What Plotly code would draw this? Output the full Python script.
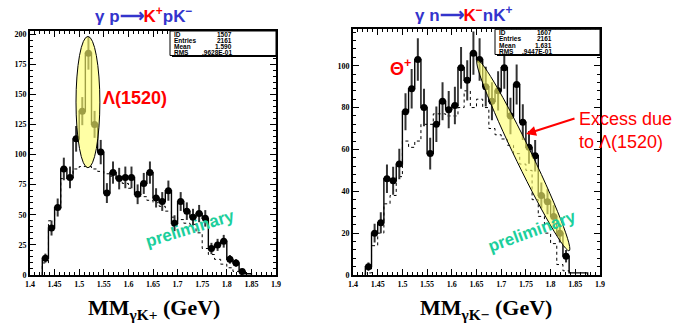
import numpy as np
import plotly.graph_objects as go

W, H = 679, 325

# ---- binning (40 bins from 1.4 to 1.9 GeV) ----
BIN_LO = 1.425      # lower edge of first filled bin
BIN_W = 0.0125

# ---- left panel: gamma p -> K+ p K- , MM(gamma K+) ----
left_counts = [14, 39, 56, 88, 81, 113, 136, 184, 125, 102, 68, 85, 80, 81, 81, 67, 76,
               85, 64, 61, 70, 43, 61, 53, 48, 51, 47, 22, 25, 28, 13, 10, 3]
left_tail = [1]
left_sim = [10, 45, 55, 80, 80, 88, 90, 90, 88, 86, 84, 82, 79, 76, 72, 68, 65,
            62, 60, 57, 53, 48, 46, 43, 42, 35, 22, 17, 13, 9, 6, 3, 1]

# ---- right panel: gamma n -> K- n K+ , MM(gamma K-) ----
right_counts = [4, 20, 25, 46, 45, 53, 78, 89, 103, 80, 58, 72, 83, 79, 81, 99, 93,
                106, 103, 90, 83, 88, 99, 76, 91, 73, 61, 57, 38, 35, 28, 20, 9]
right_tail = [1, 1, 1]
right_sim = [1, 14, 20, 34, 38, 47, 64, 61, 64, 72, 72, 77, 77, 76, 76, 80, 88,
             80, 84, 80, 70, 67, 65, 62, 58, 53, 50, 36, 28, 20, 15, 5, 2]

left_stats = [("ID", "1507"), ("Entries", "2161"), ("Mean", "1.590"), ("RMS", ".9628E-01")]
right_stats = [("ID", "1607"), ("Entries", "2161"), ("Mean", "1.631"), ("RMS", ".9447E-01")]

x_ticks = [1.4, 1.45, 1.5, 1.55, 1.6, 1.65, 1.7, 1.75, 1.8, 1.85, 1.9]
x_tick_text = ["1.4", "1.45", "1.5", "1.55", "1.6", "1.65", "1.7", "1.75", "1.8", "1.85", "1.9"]


def centers(n):
    return [BIN_LO + BIN_W * (i + 0.5) for i in range(n)]


def step_xy(vals, tail=()):
    allv = list(vals) + list(tail)
    edges = [BIN_LO + BIN_W * i for i in range(len(allv) + 1)]
    xs = [edges[0]] + edges[:-1] + [edges[-1], edges[-1]]
    ys = [0] + allv + [allv[-1], 0]
    return xs, ys


def px(x):
    return x / W


def py(y):
    return 1 - y / H


fig = go.Figure()

panels = [
    dict(xa="x", ya="y", counts=left_counts, tail=left_tail, sim=left_sim),
    dict(xa="x2", ya="y2", counts=right_counts, tail=right_tail, sim=right_sim),
]

for p in panels:
    sx, sy = step_xy(p["sim"])
    fig.add_trace(go.Scatter(x=sx, y=sy, mode="lines", line_shape="hv",
                             line=dict(color="black", width=1, dash="dot"),
                             xaxis=p["xa"], yaxis=p["ya"], hoverinfo="skip"))
    hx, hy = step_xy(p["counts"], p["tail"])
    fig.add_trace(go.Scatter(x=hx, y=hy, mode="lines", line_shape="hv",
                             line=dict(color="black", width=1.4),
                             xaxis=p["xa"], yaxis=p["ya"], hoverinfo="skip"))
    c = np.array(p["counts"], dtype=float)
    fig.add_trace(go.Scatter(x=centers(len(c)), y=c, mode="markers",
                             marker=dict(color="black", size=7),
                             error_y=dict(type="data", array=np.sqrt(c), color="#333333",
                                          thickness=2, width=0),
                             xaxis=p["xa"], yaxis=p["ya"]))

axis_common = dict(showgrid=False, zeroline=False, showline=True, linecolor="black",
                   linewidth=2, mirror="allticks", ticks="inside", ticklen=6,
                   tickcolor="black", tickwidth=1,
                   tickfont=dict(family="Liberation Serif", size=8, color="black", weight="bold"))

xcommon = dict(axis_common, range=[1.4, 1.9], tickvals=x_ticks, ticktext=x_tick_text,
               minor=dict(dtick=0.01, ticks="inside", ticklen=3, tickcolor="black"))

fig.update_layout(
    width=W, height=H, margin=dict(l=0, r=0, t=0, b=0, autoexpand=False),
    paper_bgcolor="white", plot_bgcolor="white", showlegend=False,
    xaxis=dict(xcommon, domain=[px(30), px(276)], anchor="y"),
    yaxis=dict(axis_common, domain=[py(275), py(31)], range=[0, 202.5], dtick=25,
               minor=dict(dtick=5, ticks="inside", ticklen=3, tickcolor="black"), anchor="x"),
    xaxis2=dict(xcommon, domain=[px(353), px(600)], anchor="y2"),
    yaxis2=dict(axis_common, domain=[py(275), py(29.3)], range=[0, 117.4], dtick=20,
                minor=dict(dtick=4, ticks="inside", ticklen=3, tickcolor="black"), anchor="x2"),
)

# ---- highlight ellipses ----
fig.add_shape(type="circle", xref="x", yref="y", x0=1.4935, x1=1.542, y0=89, y1=198,
              fillcolor="rgba(255,255,110,0.62)", line=dict(color="black", width=1), layer="above")

# tilted ellipse on right panel (parametric outline)
cx, cy = 1.7447, 57.15
a_vec = (-0.0931, 45.55)
b_vec = (0.0150, 1.75)
t = np.linspace(0, 2 * np.pi, 60)
ex = cx + a_vec[0] * np.cos(t) + b_vec[0] * np.sin(t)
ey = cy + a_vec[1] * np.cos(t) + b_vec[1] * np.sin(t)
path = "M " + " L ".join(f"{x:.5f},{y:.3f}" for x, y in zip(ex, ey)) + " Z"
fig.add_shape(type="path", xref="x2", yref="y2", path=path,
              fillcolor="rgba(255,255,110,0.62)", line=dict(color="black", width=1), layer="above")


def note(x, y, text, size, color="black", family="Liberation Sans", xanchor="center",
         yanchor="middle", **kw):
    fig.add_annotation(xref="paper", yref="paper", x=px(x), y=py(y), text=text,
                       showarrow=False, xanchor=xanchor, yanchor=yanchor,
                       font=dict(family=family, size=size, color=color), **kw)


# ---- stats boxes ----
def stats_box(x0, x1, y0, y1, rows, xlab, xval):
    fig.add_shape(type="rect", xref="paper", yref="paper", x0=px(x0), x1=px(x1),
                  y0=py(y1), y1=py(y0), fillcolor="white", line=dict(color="black", width=1),
                  layer="above")
    fig.add_shape(type="line", xref="paper", yref="paper", x0=px(x0 + 2), x1=px(x1),
                  y0=py(y1 + 0.5), y1=py(y1 + 0.5), line=dict(color="black", width=2), layer="above")
    step = (y1 - y0) / len(rows)
    for i, (lab, val) in enumerate(rows):
        yy = y0 + step * (i + 0.5)
        note(xlab, yy, f"<b>{lab}</b>", 6.5, xanchor="left")
        note(xval, yy, f"<b>{val}</b>", 6.5, xanchor="right")


stats_box(170, 276, 31, 55.5, left_stats, 172, 234)
stats_box(495, 600, 29.3, 54.5, right_stats, 497, 554)

# ---- titles ----
blue = "#3434cc"
red = "#ff0000"
note(143, 15, (f"<b><span style='color:{blue}'>γ p⟶</span><span style='color:{red}'>K<sup>+</sup></span>"
               f"<span style='color:{blue}'>pK<sup>−</sup></span></b>"), 17)
note(463, 14, (f"<b><span style='color:{blue}'>γ n⟶</span><span style='color:{red}'>K<sup>−</sup></span>"
               f"<span style='color:{blue}'>nK<sup>+</sup></span></b>"), 17)

# ---- axis titles ----
note(154, 309, "<b>MM<sub>γK+</sub> (GeV)</b>", 22, family="Liberation Serif")
note(486, 309, "<b>MM<sub>γK−</sub> (GeV)</b>", 22, family="Liberation Serif")

# ---- labels ----
note(135, 98, "<b>Λ(1520)</b>", 18, color=red)
note(400, 67, "<b>Θ<sup>+</sup></b>", 18, color=red)
note(577, 130, "Excess due<br>to Λ(1520)", 18, color=red, xanchor="left", align="left")
fig.add_annotation(xref="paper", yref="paper", x=px(526), y=py(134), ax=50, ay=-16,
                   showarrow=True, arrowhead=2, arrowsize=1, arrowwidth=2, arrowcolor=red, text="")

for xc, yc, ang in [(190, 228, -17), (532, 231, -20)]:
    note(xc, yc, "<b>preliminary</b>", 17, color="#1ccf9c", textangle=ang)

fig.write_html("out.html", config={"displayModeBar": False},
               post_script="document.body.style.margin='0';document.body.style.overflow='hidden';")
